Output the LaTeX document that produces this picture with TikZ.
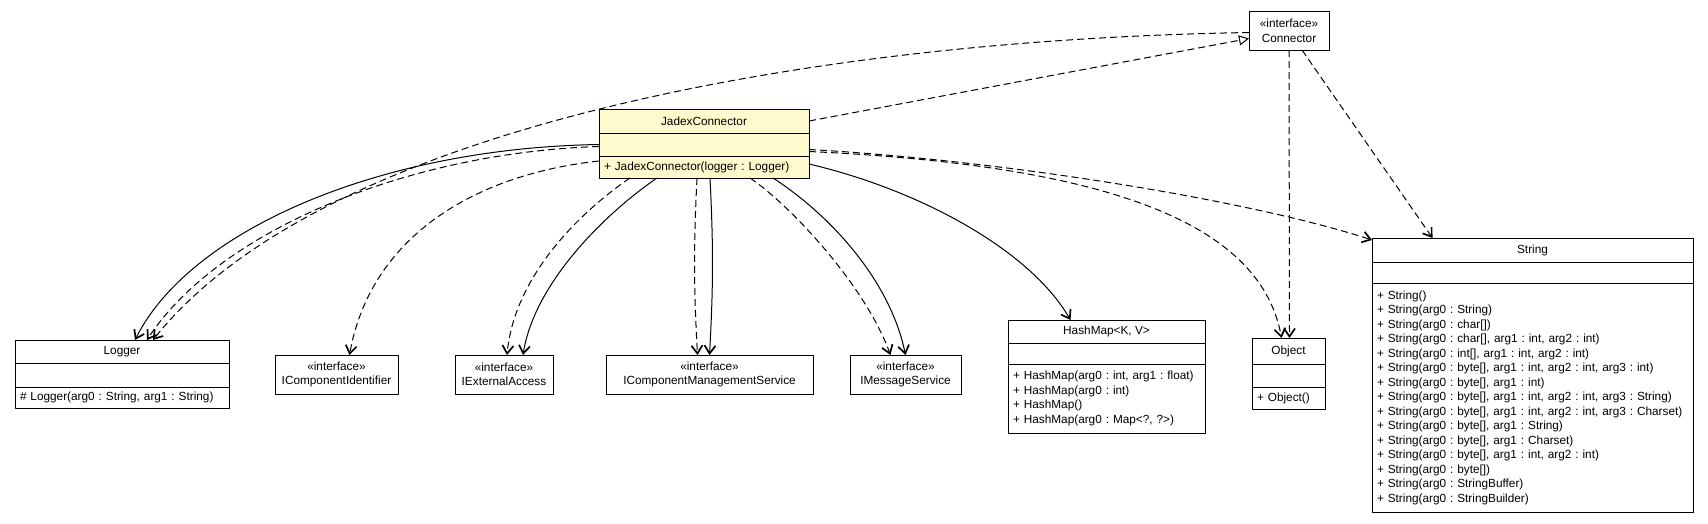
\documentclass[tikz,border=0pt]{standalone}
\usepackage{fontspec}
\setmainfont{Liberation Sans}
\usetikzlibrary{positioning,arrows.meta}
\definecolor{jadexfill}{RGB}{255,250,205}

\begin{document}
\begin{tikzpicture}[x=1pt, y=-1pt, line join=round,
    font=\fontsize{11.8pt}{14.5pt}\selectfont\frenchspacing,
    classbox/.style={draw, line width=1pt, fill=white, outer sep=0pt, inner sep=0pt},
    classtitle/.style={classbox, anchor=north west},
    classpart/.style={classbox, inner xsep=5pt, align=left},
    iface/.style={classbox, anchor=north west, align=center, minimum height=39pt},
    depend/.style={draw, line width=1pt, dash pattern=on 7pt off 4pt,
      -{Straight Barb[length=8pt,width=11pt,line width=1.7pt]}},
    assoc/.style={draw, line width=1pt,
      -{Straight Barb[length=8pt,width=11pt,line width=1.7pt]}},
    realize/.style={draw, line width=1pt, dash pattern=on 7pt off 4pt,
      -{Triangle[length=10pt,width=10pt,fill=white]}}]
      \useasboundingbox (0,0) rectangle (1708,523);

      % JadexConnector
      \node[classtitle, fill=jadexfill, minimum width=210pt, minimum height=24pt] (jadex) at (599,109) {JadexConnector};
      \node[classbox, fill=jadexfill, below=0pt of jadex, minimum width=210pt, minimum height=23pt] (jadexA) {};
      \node[classpart, fill=jadexfill, below=0pt of jadexA, text width=200pt, minimum height=22pt] (jadexM) {+ JadexConnector(logger : Logger)};

      \node[iface, minimum width=80pt] (connector) at (1249,11) {«interface»\\[0.5pt]Connector};

      % Logger
      \node[classtitle, minimum width=214pt, minimum height=23pt] (logger) at (15,340) {Logger};
      \node[classbox, below=0pt of logger, minimum width=214pt, minimum height=24pt] (loggerA) {};
      \node[classpart, below=0pt of loggerA, text width=204pt, minimum height=21pt] (loggerM) {\# Logger(arg0 : String, arg1 : String)};

      % interfaces
      \node[iface, minimum width=123pt] (compId) at (275,355) {«interface»\\IComponentIdentifier};
      \node[iface, minimum width=98pt] (extAccess) at (455,355) {«interface»\\IExternalAccess};
      \node[iface, minimum width=207pt] (compMgmt) at (606,355) {«interface»\\IComponentManagementService};
      \node[iface, minimum width=111pt] (msgService) at (850,355) {«interface»\\IMessageService};

      % HashMap
      \node[classtitle, minimum width=197pt, minimum height=23pt] (hashmap) at (1008,320) {HashMap<K, V>};
      \node[classbox, below=0pt of hashmap, minimum width=197pt, minimum height=21pt] (hashmapA) {};
      \node[classpart, below=0pt of hashmapA, text width=187pt, minimum height=69pt] (hashmapM) {+ HashMap(arg0 : int, arg1 : float)\\
        + HashMap(arg0 : int)\\
        + HashMap()\\
        + HashMap(arg0 : Map<?, ?>)};

      % Object
      \node[classtitle, minimum width=73pt, minimum height=26pt] (object) at (1252,338) {Object};
      \node[classbox, below=0pt of object, minimum width=73pt, minimum height=23pt] (objectA) {};
      \node[classpart, below=0pt of objectA, text width=63pt, minimum height=22pt] (objectM) {+ Object()};

      % String
      \node[classtitle, minimum width=321pt, minimum height=24pt] (string) at (1372,238) {String};
      \node[classbox, below=0pt of string, minimum width=321pt, minimum height=21pt] (stringA) {};
      \node[classpart, below=0pt of stringA, text width=311pt, minimum height=229pt] (stringM) {+ String()\\
        + String(arg0 : String)\\
        + String(arg0 : char[])\\
        + String(arg0 : char[], arg1 : int, arg2 : int)\\
        + String(arg0 : int[], arg1 : int, arg2 : int)\\
        + String(arg0 : byte[], arg1 : int, arg2 : int, arg3 : int)\\
        + String(arg0 : byte[], arg1 : int)\\
        + String(arg0 : byte[], arg1 : int, arg2 : int, arg3 : String)\\
        + String(arg0 : byte[], arg1 : int, arg2 : int, arg3 : Charset)\\
        + String(arg0 : byte[], arg1 : String)\\
        + String(arg0 : byte[], arg1 : Charset)\\
        + String(arg0 : byte[], arg1 : int, arg2 : int)\\
        + String(arg0 : byte[])\\
        + String(arg0 : StringBuffer)\\
        + String(arg0 : StringBuilder)};

      \draw[realize] (jadex.east) -- ([yshift=-8pt]connector.west);
      \draw[depend] ([yshift=-2pt]connector.west) .. controls (800,40) and (320,130) .. ([xshift=31pt]logger.north);
      \draw[assoc] (jadexA.west) .. controls (380,148) and (190,230) .. ([xshift=13pt]logger.north);
      \draw[depend] ([yshift=-2pt]jadexA.west) .. controls (400,153) and (215,235) .. ([xshift=25pt]logger.north);
      \draw[depend] ([yshift=6pt]jadexM.west) .. controls (470,175) and (370,240) .. ([xshift=13pt]compId.north);
      \draw[depend] ([xshift=-74pt]jadexM.south) .. controls (590,205) and (515,270) .. ([xshift=3pt]extAccess.north);
      \draw[assoc] ([xshift=-47pt]jadexM.south) .. controls (610,210) and (535,280) .. ([xshift=19pt]extAccess.north);
      \draw[depend] ([xshift=-7pt]jadexM.south) to[bend right=3] ([xshift=-12pt]compMgmt.north);
      \draw[assoc] ([xshift=6pt]jadexM.south) to[bend left=3] (compMgmt.north);
      \draw[depend] ([xshift=46pt]jadexM.south) .. controls (790,205) and (865,285) .. ([xshift=-15pt]msgService.north);
      \draw[assoc] ([xshift=69pt]jadexM.south) .. controls (830,215) and (890,280) .. (msgService.north);
      \draw[assoc] ([yshift=3pt]jadexM.east) .. controls (920,190) and (1030,250) .. ([xshift=-36pt]hashmap.north);
      \draw[depend] ([yshift=-5pt]jadexA.east) .. controls (1000,160) and (1250,200) .. ([yshift=-2pt]string.north west);
      \draw[depend] ([yshift=-7pt]jadexA.east) .. controls (1100,165) and (1260,220) .. ([xshift=-7pt]object.north);
      \draw[depend] (connector.south) -- ([xshift=1pt]object.north);
      \draw[depend] ([xshift=13pt]connector.south) -- ([xshift=-100pt]string.north);
    \end{tikzpicture}
\end{document}
